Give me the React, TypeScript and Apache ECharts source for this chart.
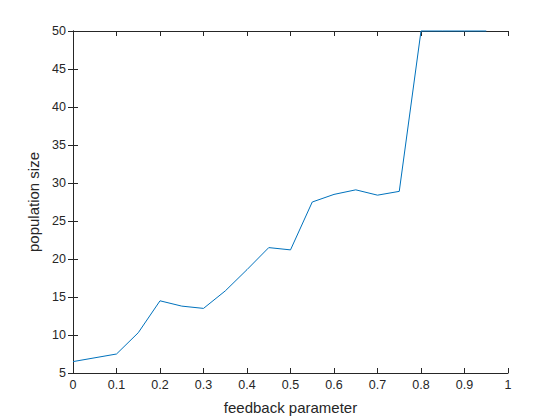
import React, { useEffect, useRef } from "react";
import * as echarts from "echarts";

const xValues = [0, 0.1, 0.15, 0.2, 0.25, 0.3, 0.35, 0.4, 0.45, 0.5, 0.55, 0.6, 0.65, 0.7, 0.75, 0.8, 0.85, 0.9, 0.95];
const yValues = [6.5, 7.5, 10.3, 14.5, 13.8, 13.5, 15.8, 18.6, 21.5, 21.2, 27.5, 28.5, 29.1, 28.4, 28.9, 50, 50, 50, 50];
const xTitle = "feedback parameter";
const yTitle = "population size";

const axisColor = "#262626";
const font = "Liberation Sans, Arial, sans-serif";

export default function App() {
  const ref = useRef<HTMLDivElement>(null);
  useEffect(() => {
    if (!ref.current) return;
    const chart = echarts.init(ref.current, null, { renderer: "svg" });
    const data = xValues.map((x, i) => [x, yValues[i]]);
    const baseAxis = {
      axisLine: { show: true, lineStyle: { color: axisColor, width: 1 } },
      axisTick: { show: true, inside: true, length: 5, lineStyle: { color: axisColor } },
      splitLine: { show: false },
    };
    chart.setOption({
      animation: false,
      backgroundColor: "#ffffff",
      grid: { left: 73, right: 52, top: 31, bottom: 46, containLabel: false },
      xAxis: [
        {
          ...baseAxis,
          type: "value",
          min: 0,
          max: 1,
          interval: 0.1,
          position: "bottom",
          name: xTitle,
          nameLocation: "middle",
          nameGap: 27,
          nameTextStyle: { color: axisColor, fontSize: 15, fontFamily: font },
          axisLabel: { color: axisColor, fontSize: 12.5, fontFamily: font, margin: 5 },
        },
        {
          ...baseAxis,
          type: "value",
          min: 0,
          max: 1,
          interval: 0.1,
          position: "top",
          axisLabel: { show: false },
        },
      ],
      yAxis: [
        {
          ...baseAxis,
          type: "value",
          min: 5,
          max: 50,
          interval: 5,
          position: "left",
          name: yTitle,
          nameLocation: "middle",
          nameGap: 25,
          nameRotate: 90,
          nameTextStyle: { color: axisColor, fontSize: 15, fontFamily: font },
          axisLabel: { color: axisColor, fontSize: 12.5, fontFamily: font, margin: 7 },
        },
        {
          ...baseAxis,
          type: "value",
          min: 5,
          max: 50,
          interval: 5,
          position: "right",
          axisLabel: { show: false },
        },
      ],
      series: [
        {
          type: "line",
          data,
          showSymbol: false,
          symbol: "none",
          lineStyle: { color: "#0072BD", width: 1 },
          clip: false,
        },
      ],
    });
    return () => chart.dispose();
  }, []);
  return (
    <div
      ref={ref}
      style={{ position: "absolute", left: 0, top: 0, width: 560, height: 420 }}
    />
  );
}
